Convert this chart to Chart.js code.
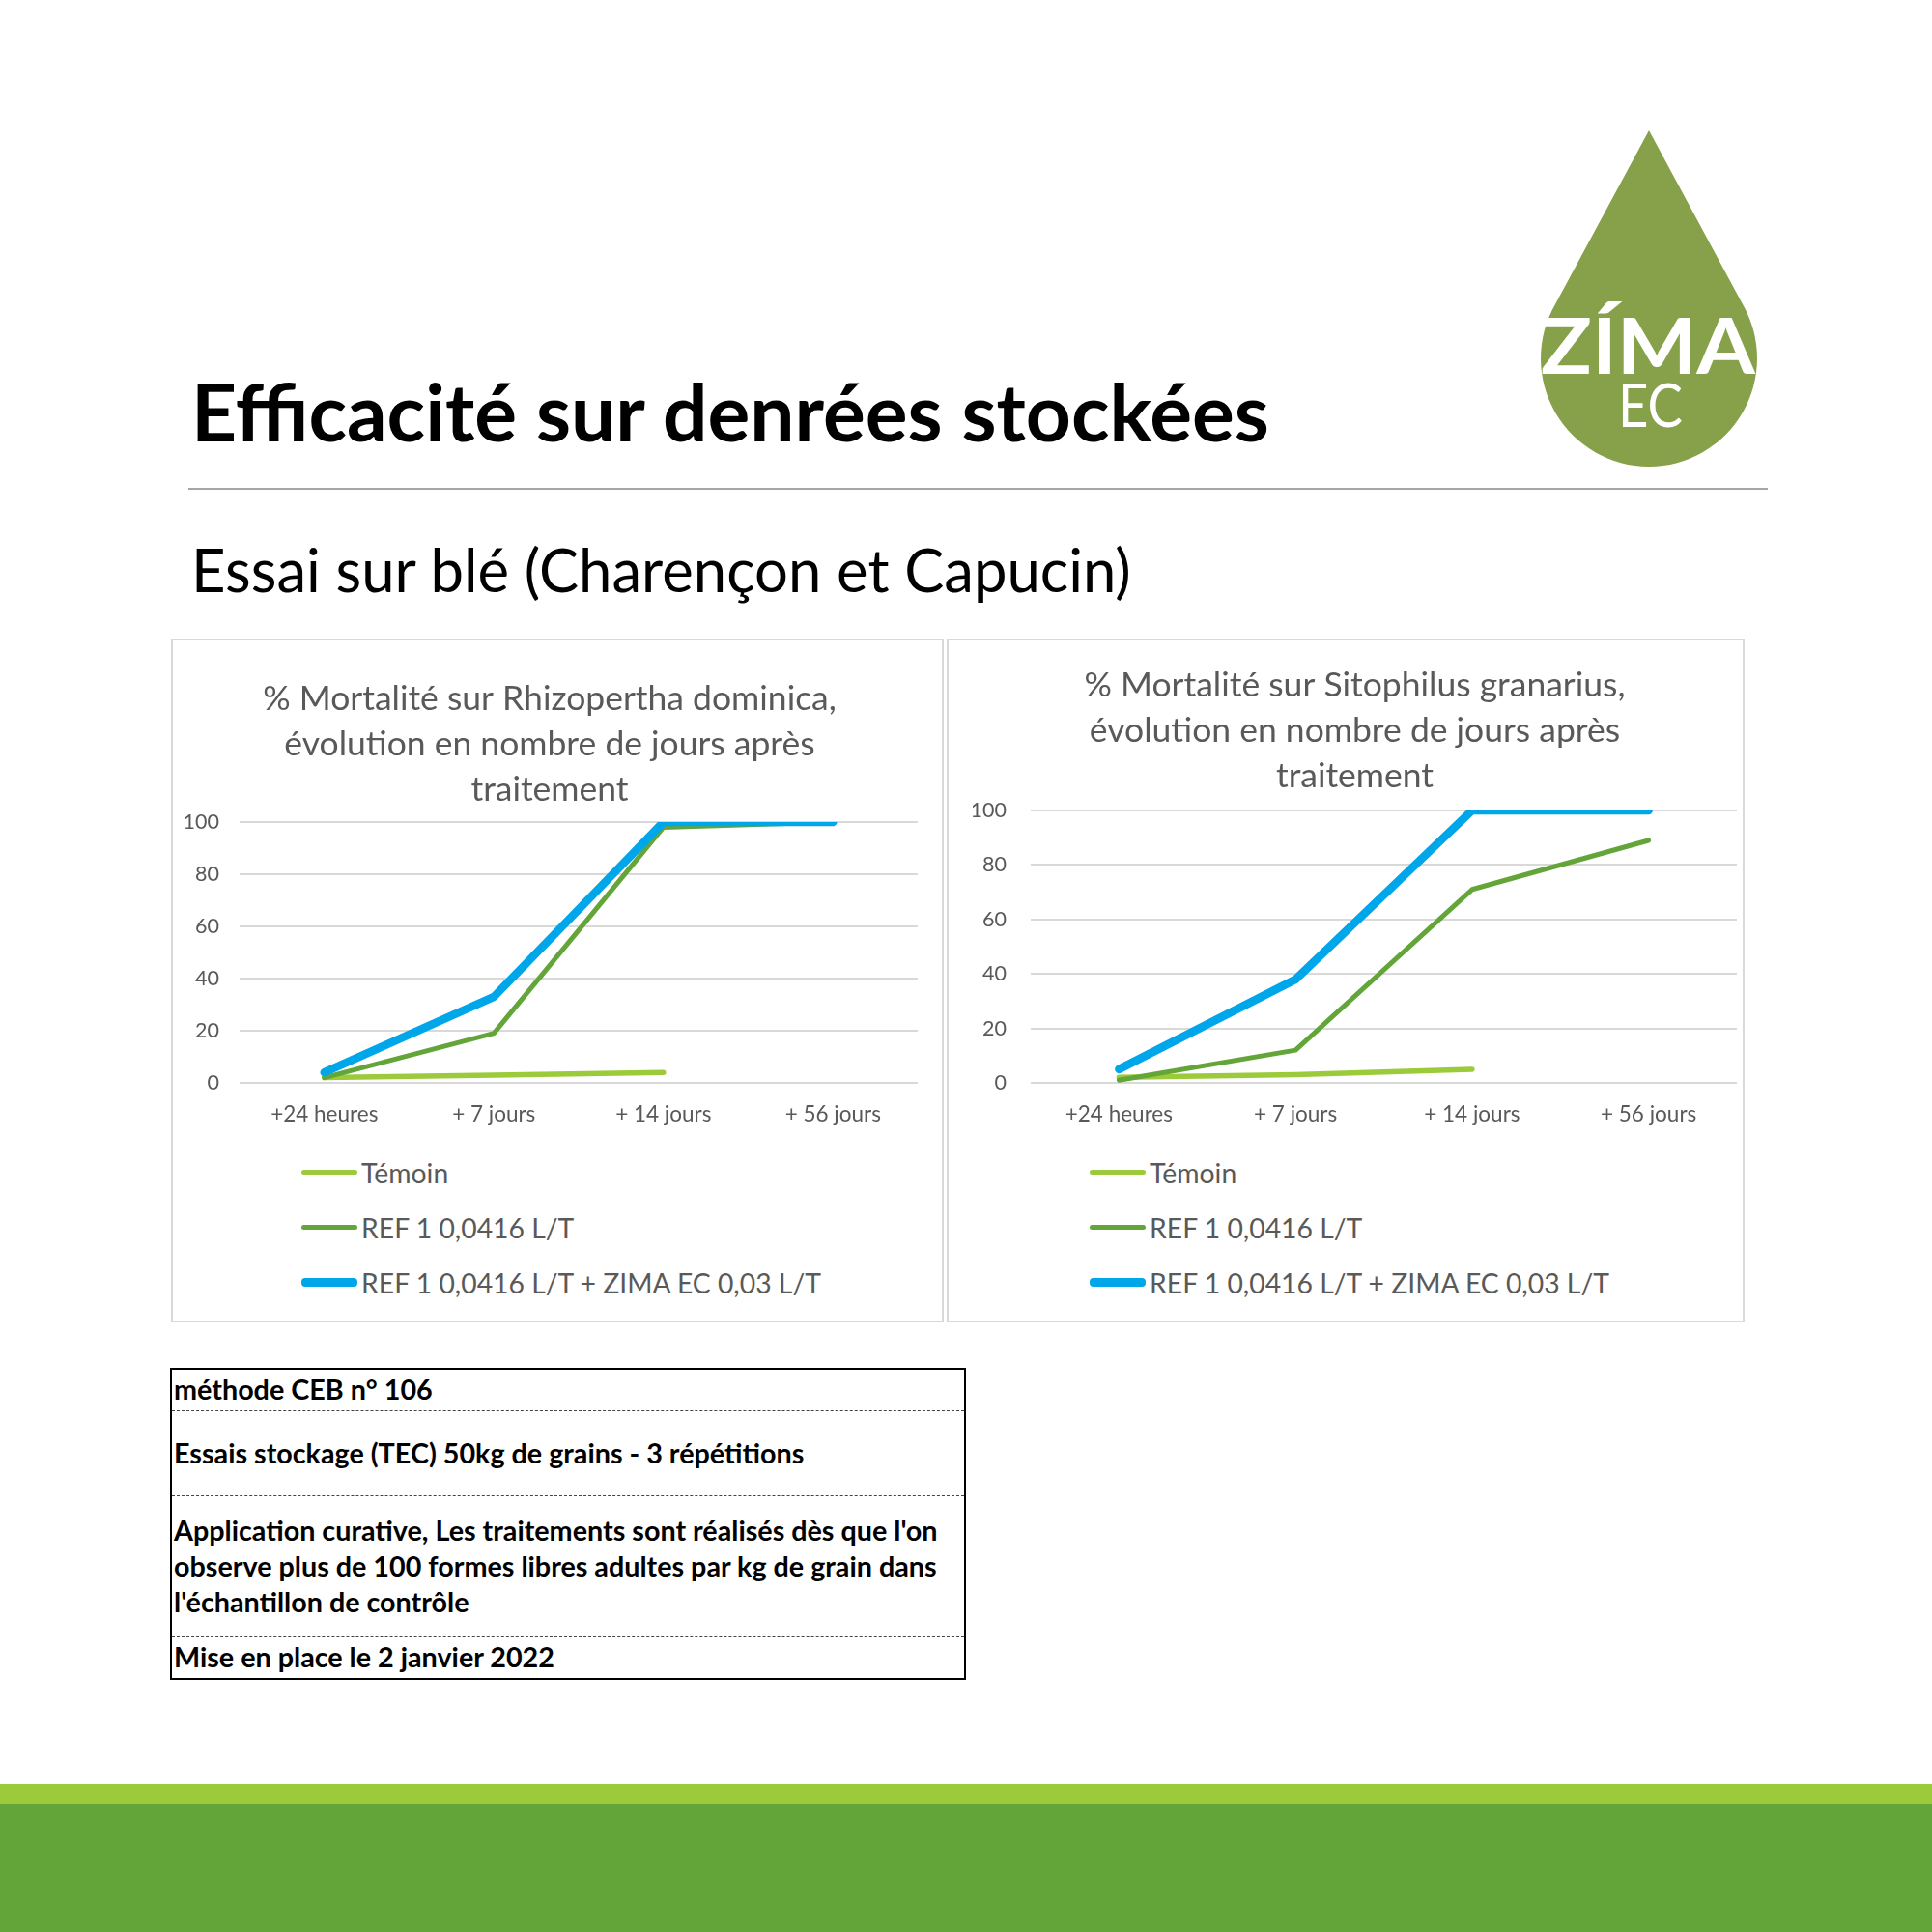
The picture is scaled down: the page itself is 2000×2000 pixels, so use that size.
<!DOCTYPE html>
<html lang="fr">
<head>
<meta charset="utf-8">
<title>Efficacité sur denrées stockées</title>
<script src="https://cdn.jsdelivr.net/npm/chart.js@4.4.1/dist/chart.umd.min.js"></script>
<style>
    body { margin: 0; width: 2000px; height: 2000px; position: relative; background: #fff; font-family: Lato, 'Open Sans', sans-serif; overflow: hidden; }
    #title { position: absolute; left: 198px; top: 380px; font-size: 82px; font-weight: 700; line-height: 1; white-space: nowrap; color: #000; }
    #rule { position: absolute; left: 195px; top: 505px; width: 1635px; height: 2px; background: #a6a6a6; }
    #subtitle { position: absolute; left: 198px; top: 560px; font-size: 60px; line-height: 1; white-space: nowrap; color: #000; }
    #logo { position: absolute; left: 0; top: 0; }
    .box { position: absolute; top: 661px; height: 708px; border: 2px solid #d9d9d9; box-sizing: border-box; background: #fff; }
    #boxLeft { left: 177px; width: 800px; }
    #boxRight { left: 980px; width: 826px; }
    .box canvas { position: absolute; left: 0; top: 0; }
    .legend { position: absolute; left: 0; right: 0; top: 522px; text-align: center; }
    .legend-inner { display: inline-block; text-align: left; margin-left: 8px; }
    .legend-row { display: flex; align-items: center; height: 57px; font-size: 28.3px; color: #595959; white-space: nowrap; }
    .legend-line { width: 58px; margin-right: 4px; border-radius: 4px; }
    #table { position: absolute; left: 176px; top: 1416px; width: 824px; height: 323px; border: 2.5px solid #000; box-sizing: border-box; font-weight: 700; color: #000; }
    .row { display: flex; align-items: center; box-sizing: border-box; padding-left: 2px; line-height: 37px; border-bottom: 1.5px dashed #444; }
    .row:last-child { border-bottom: none; }
    #footLight { position: absolute; left: 0; top: 1847px; width: 2000px; height: 20px; background: #9bcb3b; }
    #footDark { position: absolute; left: 0; top: 1867px; width: 2000px; height: 133px; background: #63a538; }
</style>
</head>
<body>
<div id="title">Efficacité sur denrées stockées</div>
<div id="rule"></div>
<div id="subtitle">Essai sur blé (Charençon et Capucin)</div>

<svg id="logo" width="2000" height="520">
    <path d="M1707,135 L1804,315 A112,112 0 1,1 1610,315 Z" fill="#87a14a"/>
    <text x="1595" y="387" font-family="Lato" font-weight="700" font-size="80" fill="#fff" textLength="222" lengthAdjust="spacingAndGlyphs">ZÍMA</text>
    <text x="1675" y="442" font-family="Lato" font-size="61" fill="#fff" textLength="67" lengthAdjust="spacingAndGlyphs">EC</text>
</svg>

<div class="box" id="boxLeft">
    <canvas id="chartLeft" width="796" height="510"></canvas>
    <div class="legend" id="legendLeft"></div>
</div>
<div class="box" id="boxRight">
    <canvas id="chartRight" width="822" height="510"></canvas>
    <div class="legend" id="legendRight"></div>
</div>

<div id="table">
    <div class="row" style="height:42.5px">méthode CEB n° 106</div>
    <div class="row" style="height:88px">Essais stockage (TEC) 50kg de grains - 3 répétitions</div>
    <div class="row" style="height:146px"><div><span id="longLine">Application curative, Les traitements sont réalisés dès que l'on</span><br>observe plus de 100 formes libres adultes par kg de grain dans<br>l'échantillon de contrôle</div></div>
    <div class="row" style="height:42.5px">Mise en place le 2 janvier 2022</div>
</div>

<div id="footLight"></div>
<div id="footDark"></div>

<script>
// jours après traitement
const categories = ['+24 heures', '+ 7 jours', '+ 14 jours', '+ 56 jours'];
const seriesNames = ['Témoin', 'REF 1 0,0416 L/T', 'REF 1 0,0416 L/T + ZIMA EC 0,03 L/T'];
const seriesColors = ['#9bcb3b', '#63a538', '#00a6ea'];
const seriesWidths = [5.5, 5, 8.5];

// Rhizopertha dominica (capucin)
const rhizoTemoin = [2, 3, 4, null];
const rhizoRef = [2, 19, 98, 100];
const rhizoZima = [4, 33, 100, 100];

// Sitophilus granarius (charançon)
const sitoTemoin = [2, 3, 5, null];
const sitoRef = [1, 12, 71, 89];
const sitoZima = [5, 38, 100, 100];

const yTicks = [0, 20, 40, 60, 80, 100];

const titleLeft = ['% Mortalité sur Rhizopertha dominica,', 'évolution en nombre de jours après', 'traitement'];
const titleRight = ['% Mortalité sur Sitophilus granarius,', 'évolution en nombre de jours après', 'traitement'];

Chart.defaults.font.family = 'Lato';
Chart.defaults.color = '#595959';

function fitWidth(el, target) {
    const w = el.getBoundingClientRect().width;
    const size = parseFloat(getComputedStyle(el).fontSize);
    const newSize = size * target / w;
    el.style.fontSize = newSize + 'px';
    return newSize;
}

function placeBaseline(el, baseline, size) {
    el.style.top = (baseline - 0.887 * size) + 'px';
}

function makeChart(canvasId, legendId, titleLines, values, opts) {
    const datasets = values.map((data, i) => ({
        label: seriesNames[i],
        data: data,
        borderColor: seriesColors[i],
        backgroundColor: seriesColors[i],
        borderWidth: seriesWidths[i],
        borderCapStyle: 'round',
        borderJoinStyle: 'round',
        pointRadius: 0,
        tension: 0,
        order: 3 - i
    }));

    const chart = new Chart(document.getElementById(canvasId), {
        type: 'line',
        data: { labels: categories, datasets },
        options: {
            responsive: false,
            animation: false,
            layout: { padding: { left: opts.padLeft, right: opts.padRight, top: 0, bottom: 8 } },
            plugins: {
                legend: { display: false },
                tooltip: { enabled: false },
                title: {
                    display: true,
                    text: titleLines,
                    color: '#595959',
                    font: { size: 35.5, weight: 'normal', lineHeight: 47 / 35.5 },
                    padding: { top: opts.titleTop, bottom: opts.titleBottom }
                }
            },
            scales: {
                x: {
                    offset: true,
                    grid: { display: false, drawTicks: false },
                    border: { display: false },
                    ticks: { padding: 19, font: { size: 22.5 }, color: '#595959', maxRotation: 0 },
                    afterFit: (scale) => { scale.height = 44; }
                },
                y: {
                    min: yTicks[0],
                    max: yTicks[yTicks.length - 1],
                    grid: { color: '#d9d9d9', lineWidth: 2, drawTicks: false },
                    border: { display: false },
                    ticks: { stepSize: yTicks[1] - yTicks[0], padding: opts.tickPad, font: { size: 21.5 }, color: '#595959' },
                    afterFit: (scale) => { scale.width = 60; }
                }
            }
        }
    });

    const legend = document.getElementById(legendId);
    const inner = document.createElement('div');
    inner.className = 'legend-inner';
    chart.data.datasets.forEach((ds) => {
        const row = document.createElement('div');
        row.className = 'legend-row';
        const line = document.createElement('span');
        line.className = 'legend-line';
        line.style.height = ds.borderWidth + 'px';
        line.style.background = ds.borderColor;
        row.appendChild(line);
        row.appendChild(document.createTextNode(ds.label));
        inner.appendChild(row);
    });
    legend.appendChild(inner);
    return chart;
}

// texts
const titleEl = document.getElementById('title');
placeBaseline(titleEl, 457, fitWidth(titleEl, 1116));
const subEl = document.getElementById('subtitle');
placeBaseline(subEl, 614, fitWidth(subEl, 973));
const tableSize = fitWidth(document.getElementById('longLine'), 791);
document.getElementById('table').style.fontSize = tableSize + 'px';
document.getElementById('longLine').style.fontSize = '';

makeChart('chartLeft', 'legendLeft', titleLeft, [rhizoTemoin, rhizoRef, rhizoZima],
    { padLeft: 9, padRight: 25, tickPad: 21, titleTop: 37, titleBottom: 10 });
makeChart('chartRight', 'legendRight', titleRight, [sitoTemoin, sitoRef, sitoZima],
    { padLeft: 25, padRight: 6, tickPad: 25, titleTop: 23, titleBottom: 12 });
</script>
</body>
</html>
